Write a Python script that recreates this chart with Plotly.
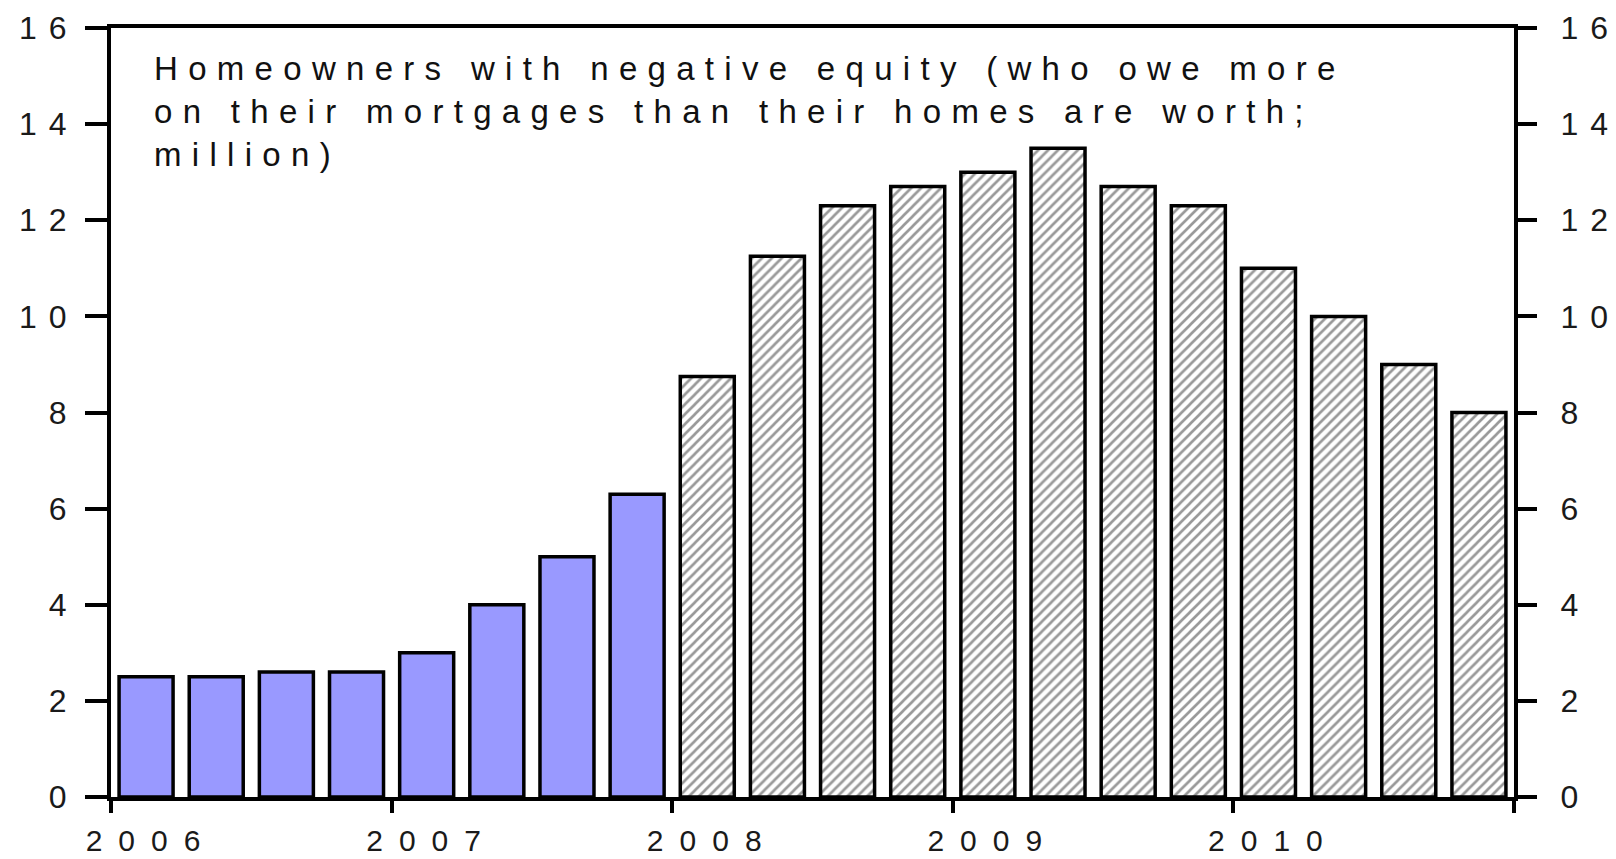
import plotly.graph_objects as go

# ---- data ----
quarters = ["2006Q1", "2006Q2", "2006Q3", "2006Q4",
            "2007Q1", "2007Q2", "2007Q3", "2007Q4",
            "2008Q1", "2008Q2", "2008Q3", "2008Q4",
            "2009Q1", "2009Q2", "2009Q3", "2009Q4",
            "2010Q1", "2010Q2", "2010Q3", "2010Q4"]
values = [2.5, 2.5, 2.6, 2.6, 3.0, 4.0, 5.0, 6.3,
          8.75, 11.25, 12.3, 12.7, 13.0, 13.5, 12.7, 12.3,
          11.0, 10.0, 9.0, 8.0]
n_actual = 8  # solid bars, rest hatched (estimates)
year_ticks = [2006, 2007, 2008, 2009, 2010, 2011]
year_labels = ["2006", "2007", "2008", "2009", "2010", ""]
y_ticks = [0, 2, 4, 6, 8, 10, 12, 14, 16]
title_lines = ["Homeowners with negative equity (who owe more",
               "on their mortgages than their homes are worth;",
               "million)"]


def spaced(text, ls):
    if len(text) <= 1:
        return text
    return "<span style='letter-spacing:%gpx'>%s</span>%s" % (ls, text[:-1], text[-1])


def qpos(q):
    return int(q[:4]) + (int(q[-1]) - 0.5) / 4.0


xs = [qpos(q) for q in quarters]
bw = 0.25 * 0.77

FONT = "Liberation Sans, Arial, sans-serif"
OFF = 8  # page body margin
W, H = 1616 - OFF, 859 - OFF
# plot area in screen pixels: x 111..1514, y 28..797
L, T = 111 - OFF, 28 - OFF
R = OFF + W - 1514
B = OFF + H - 797
PW, PH = W - L - R, H - T - B

fig = go.Figure()
fig.add_trace(go.Bar(
    x=xs[:n_actual], y=values[:n_actual], width=bw,
    marker=dict(color="#9999ff", line=dict(color="black", width=3.5)),
    yaxis="y", showlegend=False, hoverinfo="x+y"))
fig.add_trace(go.Bar(
    x=xs[n_actual:], y=values[n_actual:], width=bw,
    marker=dict(color="white", line=dict(color="black", width=3.5),
                pattern=dict(shape="/", fgcolor="#333333", bgcolor="white",
                             size=7, solidity=0.38)),
    yaxis="y2", showlegend=False, hoverinfo="x+y"))

ytext = [spaced(str(v), 12) for v in y_ticks]

axis_common = dict(range=[0, 16], tickmode="array", tickvals=y_ticks, ticktext=ytext,
                   ticks="outside", tickwidth=3.5, tickcolor="black",
                   showline=True, linewidth=4, linecolor="black",
                   showgrid=False, zeroline=False, automargin=False,
                   tickfont=dict(family=FONT, size=32, color="#1a1a1a"))

fig.update_layout(
    width=W, height=H,
    margin=dict(l=L, r=R, t=T, b=B, autoexpand=False),
    paper_bgcolor="white", plot_bgcolor="white",
    barmode="overlay",
    xaxis=dict(range=[2006, 2011], tickmode="array", tickvals=year_ticks,
               ticktext=[spaced(t, 16) for t in year_labels],
               ticks="outside", ticklen=12, tickwidth=3.5, tickcolor="black",
               showline=True, linewidth=4, linecolor="black", mirror=True,
               showgrid=False, zeroline=False, ticklabelshift=32,
               ticklabelstandoff=2, automargin=False,
               tickfont=dict(family=FONT, size=30, color="#1a1a1a")),
    yaxis=dict(side="left", ticklen=22, ticklabelstandoff=12, **axis_common),
    yaxis2=dict(side="right", overlaying="y", anchor="x", ticklen=19,
                ticklabelstandoff=17, **axis_common),
    annotations=[dict(
        xref="paper", yref="paper",
        x=(151.5 - 111) / PW, y=1 - (48 - 28) / PH,
        xanchor="left", yanchor="top", align="left", showarrow=False,
        text="<br>".join(spaced(l, 10.3) for l in title_lines),
        font=dict(family=FONT, size=33, color="#111"))],
)

fig.write_html("out.html")
